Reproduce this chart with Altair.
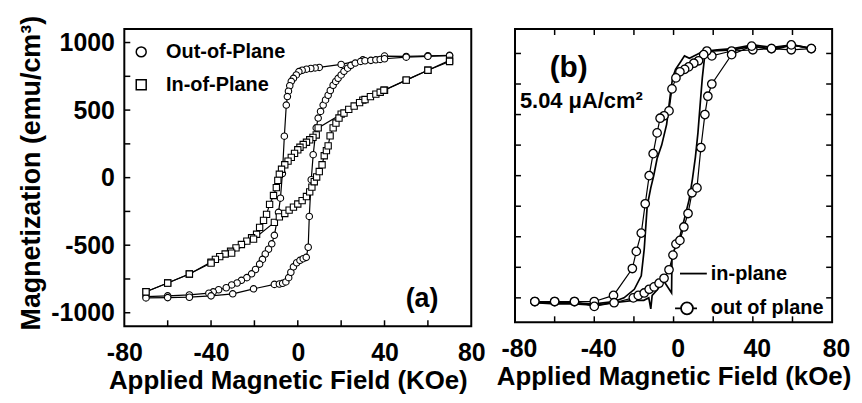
import altair as alt
import pandas as pd

FONT = "Liberation Sans"

# ---------------- panel (a) data ----------------
A_OOP_DOWN_X = [70, 60, 50, 40, 30, 20, 9.9, 8, 6, 4, 2, 0.5, -0.7, -2, -3, -3.7, -4.3, -4.8,
                -5.3, -6.2, -7.1, -8, -8.9, -10.8, -12, -13.5, -15, -16.3, -17.6, -19.5,
                -21.3, -23.5, -26, -28, -30.5, -33, -36.5, -39, -41, -50, -60, -70]
A_OOP_DOWN_Y = [905, 902, 897, 900, 872, 838, 816, 812, 808, 803, 795, 785, 760, 735, 713, 680, 640, 600,
                537, 307, 30, -152, -257, -427, -490, -530, -565, -605, -640, -680,
                -712, -740, -760, -780, -794, -815, -830, -845, -855, -868, -875, -880]
A_OOP_UP_X = [-70, -60, -50, -40, -30, -20.4, -10.8, -8.5, -7, -5.5, -4.2, -3.2, -2, -0.5, 1, 2.5, 3.9, 4.8,
              5.3, 6.2, 7.1, 8.5, 9.4, 10.5, 11.7, 12.8, 14, 15, 16.3, 17.5, 18.6, 20, 21.3, 23, 24.5, 26.5,
              29, 31, 33.7, 36, 38, 40, 50, 60, 70]
A_OOP_UP_Y = [-890, -888, -885, -875, -860, -823, -790, -787, -782, -772, -740, -700, -660, -630, -612, -600, -590, -515,
              -287, -15, 170, 368, 441, 490, 537, 575, 610, 645, 684, 712, 735, 760, 787, 810, 831, 848,
              860, 865, 868, 872, 875, 880, 892, 898, 902]
A_IP_UP_X = [-70, -60, -50, -40, -30.5, -20.4, -10.8, -8.5, -6, -4, -2, 0, 2, 4, 5.5, 6.5, 7.6, 8.7,
             9.9, 11.2, 12.2, 13.2, 14, 14.9, 16.3, 17.6, 19, 21.3, 23.5, 26, 28.5, 31, 33.5, 36, 38, 39.7,
             50, 60, 70]
A_IP_UP_Y = [-845, -780, -713, -632, -559, -455, -331, -290, -265, -240, -218, -195, -170, -140, -105, -70, -30, 5,
             45, 95, 162, 200, 235, 309, 368, 404, 441, 478, 505, 530, 555, 578, 600, 618, 632, 647,
             722, 795, 860]
A_IP_DOWN_X = [70, 60, 50, 40, 30, 20, 9.4, 8.5, 7, 5.5, 4, 2.5, 1, 0, -1.5, -3, -4.5, -6,
               -7.5, -8.5, -9.2, -9.9, -11.2, -13, -14.4, -15.8, -17.6, -19, -21.3, -23.5,
               -26, -28.5, -31, -33.5, -36, -38, -40, -50, -60, -70]
A_IP_DOWN_Y = [868, 795, 722, 647, 574, 470, 368, 316, 298, 280, 262, 245, 225, 206, 180, 150, 122, 95,
               62, 25, -20, -74, -132, -198, -272, -316, -368, -419, -445, -470,
               -495, -520, -545, -565, -585, -605, -625, -713, -780, -845]

# ---------------- panel (b) data ----------------
B_OOP_DOWN_X = [69.5, 59.4, 49.4, 40, 29.3, 19.3, 16.8, 15.2, 12.6, 10.2, 7.6, 5.6, 3.2, 1.2, -0.8, -2.3,
                -4.8, -6.8, -8.3, -10.3, -12.3, -14.3, -16.3, -18.8, -20.8, -30.3, -40, -50, -60, -70]
B_OOP_DOWN_Y = [1.04, 1.03, 1.04, 1.03, 1.02, 0.98, 1.02, 0.99, 0.94, 0.92, 0.89, 0.87, 0.85, 0.80, 0.71, 0.53,
                0.49, 0.47, 0.35, 0.18, 0.0, -0.23, -0.47, -0.62, -0.76, -0.98, -1.03, -1.03, -1.03, -1.03]
B_OOP_UP_X = [-70, -60, -50, -40, -30, -20.3, -17.8, -14.8, -12.3, -9.8, -7.3, -4.8, -2.3, -0.3, 1.2, 3.2,
              5.2, 7.3, 9.3, 11.8, 13.8, 15.8, 17.3, 19.3, 29.3, 39.4, 49.4, 59.4, 69.5]
B_OOP_UP_Y = [-1.03, -1.03, -1.03, -1.07, -1.04, -1.0, -0.98, -0.96, -0.93, -0.91, -0.88, -0.84, -0.77, -0.65, -0.56, -0.53,
              -0.42, -0.31, -0.14, -0.1, 0.23, 0.50, 0.65, 0.75, 0.99, 1.06, 1.04, 1.07, 1.04]
B_IP_DOWN_X = [70, 60, 50, 40, 30, 20, 14, 8, 5.5, 3.5, 1.0, -0.5, -1.5, -3.5, -6, -8.3, -10, -11.5,
               -13.3, -14.8, -16.3, -19.8, -25, -30, -40, -50, -60, -70]
B_IP_DOWN_Y = [1.04, 1.07, 1.03, 1.06, 1.03, 1.02, 1.01, 0.96, 0.98, 0.93, 0.87, 0.80, 0.68, 0.42, 0.25, 0.14, 0.0, -0.1,
               -0.25, -0.6, -0.82, -0.93, -1.0, -1.03, -1.05, -1.04, -1.04, -1.04]
B_IP_UP_X = [-70, -60, -50, -40, -30, -20, -15, -12.5, -11.5, -10.8, -8, -5, -1, -0.8, 1, 3.2, 5.2, 7.8,
             9.5, 11, 12.3, 13.5, 14.5, 15.5, 17, 22, 30, 40, 50, 60, 70]
B_IP_UP_Y = [-1.04, -1.05, -1.05, -1.06, -1.04, -1.02, -1.02, -1.0, -1.09, -0.98, -0.93, -0.86, -0.96, -0.66, -0.58, -0.5, -0.37, -0.2,
             -0.03, 0.15, 0.35, 0.6, 0.8, 0.95, 1.02, 1.03, 1.04, 1.07, 1.05, 1.07, 1.04]

# ---------------- labels / ticks ----------------
A_SERIES = ["Out-of-Plane", "In-of-Plane"]
B_SERIES = ["in-plane", "out of plane"]
A_XLABELS = [-80, -40, 0, 40, 80]
A_YLABELS = [-1000, -500, 0, 500, 1000]
A_XTICKS = [-60, -40, -20, 0, 20, 40, 60]
A_YTICKS = [-1000, -750, -500, -250, 0, 250, 500, 750, 1000]
B_XLABELS = [-80, -40, 0, 40, 80]
B_XTICKS = [-60, -40, -20, 0, 20, 40, 60]
B_YTICKS = [-1, -0.75, -0.5, -0.25, 0, 0.25, 0.5, 0.75, 1]
A_TITLE_X = "Applied Magnetic Field (KOe)"
A_TITLE_Y = "Magnetization (emu/cm³)"
B_TITLE_X = "Applied Magnetic Field (kOe)"
A_NOTE = "(a)"
B_NOTE = "(b)"
B_NOTE2 = "5.04 μA/cm²"

W_A, H_A = 349, 299
W_B, H_B = 319, 295
TL = 6


def branch(xs, ys, series, name):
    return pd.DataFrame({"x": xs, "y": ys, "series": series, "branch": name, "i": list(range(len(xs)))})


dfa_o = pd.concat([
    branch(A_OOP_DOWN_X, A_OOP_DOWN_Y, A_SERIES[0], "od"),
    branch(A_OOP_UP_X, A_OOP_UP_Y, A_SERIES[0], "ou"),
])
dfa_i = pd.concat([
    branch(A_IP_DOWN_X, A_IP_DOWN_Y, A_SERIES[1], "id"),
    branch(A_IP_UP_X, A_IP_UP_Y, A_SERIES[1], "iu"),
])
dfa = pd.concat([dfa_o, dfa_i])
dfb_o = pd.concat([
    branch(B_OOP_DOWN_X, B_OOP_DOWN_Y, B_SERIES[1], "od"),
    branch(B_OOP_UP_X, B_OOP_UP_Y, B_SERIES[1], "ou"),
])
dfb_i = pd.concat([
    branch(B_IP_DOWN_X, B_IP_DOWN_Y, B_SERIES[0], "id"),
    branch(B_IP_UP_X, B_IP_UP_Y, B_SERIES[0], "iu"),
])
dfb_all = pd.concat([dfb_i, dfb_o])

txt = dict(labelFont=FONT, titleFont=FONT, labelFontWeight="bold", titleFontWeight="bold",
           labelColor="black", titleColor="black", ticks=False, tickSize=0, domain=False,
           grid=False, labelFlush=False, labelOverlap=False, labelExpr="toString(datum.value)")

XS_A = alt.Scale(domain=[-80, 80], nice=False, zero=False)
YS_A = alt.Scale(domain=[-1100, 1100], nice=False, zero=False)
XS_B = alt.Scale(domain=[-80, 80], nice=False, zero=False)
YS_B = alt.Scale(domain=[-1.2, 1.2], nice=False, zero=False)

XAX_A = alt.Axis(values=A_XLABELS, title=A_TITLE_X, labelFontSize=25, titleFontSize=26,
                 labelPadding=14, titlePadding=3, titleX=W_A / 2 - 10, **txt)
YAX_A = alt.Axis(values=A_YLABELS, title=A_TITLE_Y, labelFontSize=25, titleFontSize=27,
                 labelPadding=10, titlePadding=5, titleY=H_A / 2 - 5, **txt)
XAX_B = alt.Axis(values=B_XLABELS, title=B_TITLE_X, labelFontSize=25, titleFontSize=26,
                 labelPadding=14, titlePadding=3, labelOffset=4, **txt)

xa = lambda f="x": alt.X(f"{f}:Q", scale=XS_A, axis=XAX_A)
ya = lambda f="y": alt.Y(f"{f}:Q", scale=YS_A, axis=YAX_A)
xb = lambda f="x": alt.X(f"{f}:Q", scale=XS_B, axis=XAX_B)
yb = lambda f="y": alt.Y(f"{f}:Q", scale=YS_B, axis=None)

# ---------- panel (a) ----------
a_lines = alt.Chart(dfa).mark_line(color="black", strokeWidth=1.2).encode(
    x=xa(), y=ya(), detail="branch:N", order="i:Q")
a_circ = alt.Chart(dfa_o).mark_point(shape="circle", filled=True, fill="white", stroke="black",
                                     strokeWidth=1.1, size=42, opacity=1).encode(x=xa(), y=ya())
a_sq = alt.Chart(dfa_i).mark_point(shape="square", filled=True, fill="white", stroke="black",
                                   strokeWidth=1.1, size=40, opacity=1).encode(x=xa(), y=ya())
a_leg = alt.Chart(dfa).mark_point(opacity=0, size=10).encode(
    x=xa(), y=ya(),
    shape=alt.Shape("series:N", scale=alt.Scale(domain=A_SERIES, range=["circle", "square"]),
                    legend=alt.Legend(orient="none", legendX=7, legendY=13, title=None, padding=0,
                                      labelFont=FONT, labelFontSize=20, labelFontWeight="bold",
                                      labelColor="black", symbolSize=100, symbolStrokeWidth=1.5,
                                      symbolStrokeColor="black", symbolFillColor="white",
                                      symbolOpacity=1, rowPadding=13, labelOffset=15,
                                      labelExpr="datum.label == 'In-of-Plane' ? '\u00a0In-of-Plane' : datum.label")))
a_tb = alt.Chart(pd.DataFrame({"x": A_XTICKS})).mark_rule(color="black", strokeWidth=1.5).encode(
    x=xa(), y=alt.value(H_A), y2=alt.value(H_A - TL))
a_tl = alt.Chart(pd.DataFrame({"y": A_YTICKS})).mark_rule(color="black", strokeWidth=1.5).encode(
    y=ya(), x=alt.value(0), x2=alt.value(TL))
a_note = alt.Chart(pd.DataFrame({"t": [A_NOTE]})).mark_text(
    font=FONT, fontSize=27, fontWeight="bold", color="black").encode(
    x=alt.X(datum=57.3, type="quantitative", scale=XS_A, axis=XAX_A),
    y=alt.Y(datum=-895, type="quantitative", scale=YS_A, axis=YAX_A), text="t:N")

panel_a = alt.layer(a_lines, a_circ, a_sq, a_leg, a_tb, a_tl, a_note).properties(width=W_A, height=H_A)

# ---------- panel (b) ----------
LEG_LINE = "M-0.67,0H1.13"
LEG_CIRC = "M-1,0H-0.6M0.2,0H0.47M-0.6,0A0.4,0.4 0 1,1 0.2,0A0.4,0.4 0 1,1 -0.6,0Z"

b_ip = alt.Chart(dfb_i).mark_line(color="black", strokeWidth=1.7).encode(
    x=xb(), y=yb(), detail="branch:N", order="i:Q")
b_ol = alt.Chart(dfb_o).mark_line(color="black", strokeWidth=1.2).encode(
    x=xb(), y=yb(), detail="branch:N", order="i:Q")
b_op = alt.Chart(dfb_o).mark_point(shape="circle", filled=True, fill="white",
                                   stroke="black", strokeWidth=1.3, size=72, opacity=1).encode(
    x=xb(), y=yb())
b_leg = alt.Chart(dfb_all).mark_point(opacity=0, size=10).encode(
    x=xb(), y=yb(),
    shape=alt.Shape("series:N", scale=alt.Scale(domain=B_SERIES, range=[LEG_LINE, LEG_CIRC]),
                    legend=alt.Legend(orient="none", legendX=160, legendY=230, title=None, padding=0,
                                      labelFont=FONT, labelFontSize=20, labelFontWeight="bold",
                                      labelColor="black", symbolSize=900, symbolStrokeWidth=1.8,
                                      symbolStrokeColor="black", symbolFillColor="white",
                                      symbolOpacity=1, rowPadding=9, labelOffset=5)))
b_tb = alt.Chart(pd.DataFrame({"x": B_XTICKS})).mark_rule(color="black", strokeWidth=1.5).encode(
    x=xb(), y=alt.value(H_B), y2=alt.value(H_B - TL))
b_tt = alt.Chart(pd.DataFrame({"x": B_XTICKS})).mark_rule(color="black", strokeWidth=1.5).encode(
    x=xb(), y=alt.value(0), y2=alt.value(TL))
b_tl = alt.Chart(pd.DataFrame({"y": B_YTICKS})).mark_rule(color="black", strokeWidth=1.5).encode(
    y=yb(), x=alt.value(0), x2=alt.value(TL))
b_tr = alt.Chart(pd.DataFrame({"y": B_YTICKS})).mark_rule(color="black", strokeWidth=1.5).encode(
    y=yb(), x=alt.value(W_B - TL), x2=alt.value(W_B))
b_note = alt.Chart(pd.DataFrame({"t": [B_NOTE]})).mark_text(
    font=FONT, fontSize=30, fontWeight="bold", color="black").encode(
    x=alt.X(datum=-52.9, type="quantitative", scale=XS_B, axis=XAX_B),
    y=alt.Y(datum=0.88, type="quantitative", scale=YS_B, axis=None), text="t:N")
b_note2 = alt.Chart(pd.DataFrame({"t": [B_NOTE2]})).mark_text(
    font=FONT, fontSize=22, fontWeight="bold", color="black", align="left").encode(
    x=alt.X(datum=-77.5, type="quantitative", scale=XS_B, axis=XAX_B),
    y=alt.Y(datum=0.61, type="quantitative", scale=YS_B, axis=None), text="t:N")

panel_b = alt.layer(b_ip, b_ol, b_op, b_leg, b_tb, b_tt, b_tl, b_tr, b_note, b_note2).properties(
    width=W_B, height=H_B)

chart = alt.hconcat(panel_a, panel_b, spacing=44, bounds="flush").properties(
    padding={"left": 9, "top": 5, "right": 2, "bottom": 0}, background="white"
).configure_view(stroke="black", strokeWidth=2).resolve_scale(
    shape="independent", x="independent", y="independent").resolve_legend(shape="independent")

chart.save("out.html", embed_options={"renderer": "svg", "actions": False})
